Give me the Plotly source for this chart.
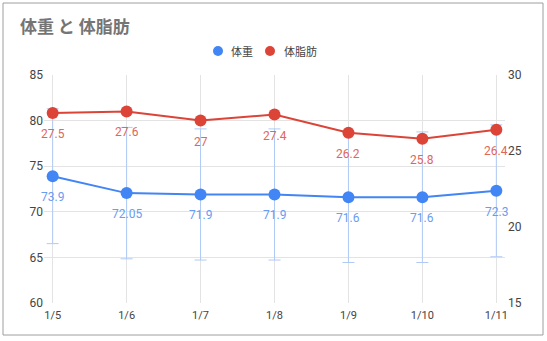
import plotly.graph_objects as go

dates = ["1/5", "1/6", "1/7", "1/8", "1/9", "1/10", "1/11"]
weight = [73.9, 72.05, 71.9, 71.9, 71.6, 71.6, 72.3]
body_fat = [27.5, 27.6, 27, 27.4, 26.2, 25.8, 26.4]
weight_labels = ["73.9", "72.05", "71.9", "71.9", "71.6", "71.6", "72.3"]
fat_labels = ["27.5", "27.6", "27", "27.4", "26.2", "25.8", "26.4"]
series_names = ["体重", "体脂肪"]
left_ticks = [60, 65, 70, 75, 80, 85]
right_ticks = [15, 20, 25, 30]

BLUE = "#4285F4"
RED = "#DB4437"
FONT = "Roboto, 'Noto Sans CJK JP', Arial, sans-serif"
JFONT = "'Noto Sans CJK JP', Roboto, sans-serif"

W, H = 547, 341
L, R, T, B = 44, 42, 75, 38
pw, ph = W - L - R, H - T - B

def px_x(p):
    return (p - L) / pw

def px_y(p):
    return (T + ph - p) / ph

fig = go.Figure()
fig.add_trace(go.Scatter(
    x=dates, y=weight, mode="lines+markers", name=series_names[0],
    line=dict(color=BLUE, width=2), marker=dict(color=BLUE, size=12),
    error_y=dict(type="percent", value=10, color="#b0caf6", thickness=1, width=6),
    showlegend=False, yaxis="y", cliponaxis=False,
))
fig.add_trace(go.Scatter(
    x=dates, y=body_fat, mode="lines+markers", name=series_names[1],
    line=dict(color=RED, width=2), marker=dict(color=RED, size=12),
    showlegend=False, yaxis="y2", cliponaxis=False,
))

annotations = []
for d, v, t in zip(dates, weight, weight_labels):
    annotations.append(dict(x=d, y=v, xref="x", yref="y", text=t, showarrow=False,
                            yshift=-21, font=dict(color="#6a9cf0", size=12, family=FONT)))
for d, v, t in zip(dates, body_fat, fat_labels):
    annotations.append(dict(x=d, y=v, xref="x", yref="y2", text=t, showarrow=False,
                            yshift=-21, font=dict(color="#e0665a", size=12, family=FONT)))

# manual legend: circle + label
legend_items = [(218, 229, series_names[0], BLUE), (270, 282, series_names[1], RED)]
shapes = [dict(type="rect", xref="paper", yref="paper",
               x0=px_x(3), x1=px_x(543), y0=px_y(335), y1=px_y(3),
               line=dict(color="#9e9e9e", width=1), layer="below")]
for cx, tx, name, col in legend_items:
    shapes.append(dict(type="circle", xref="paper", yref="paper",
                       xsizemode="pixel", ysizemode="pixel",
                       xanchor=px_x(cx), yanchor=px_y(51),
                       x0=-5, x1=5, y0=-5, y1=5,
                       fillcolor=col, line=dict(width=0)))
    annotations.append(dict(x=px_x(tx), y=px_y(51), xref="paper", yref="paper",
                            xanchor="left", yanchor="middle", showarrow=False,
                            text=name, font=dict(family=JFONT, size=11, color="#444444")))

pad = 9 / (pw / 6)
fig.update_layout(
    width=W, height=H, autosize=False,
    margin=dict(l=L, r=R, t=T, b=B, autoexpand=False),
    paper_bgcolor="white", plot_bgcolor="white",
    font=dict(family=FONT, color="#444444", size=12),
    showlegend=False,
    title=dict(text="<b>体重 と 体脂肪</b>", font=dict(family=JFONT, size=17, color="#757575"),
               x=20 / W, xanchor="left", xref="container",
               y=1 - 27 / H, yanchor="middle", yref="container"),
    xaxis=dict(type="category", range=[-pad, 6 + pad], showgrid=True,
               gridcolor="#e3e3e3", gridwidth=1, showline=False, zeroline=False,
               ticks="", ticklabelstandoff=4, tickfont=dict(size=11, color="#444444")),
    yaxis=dict(range=[60, 85], tickvals=left_ticks, showgrid=True,
               gridcolor="#e3e3e3", gridwidth=1, zeroline=False, showline=False,
               ticks="", tickfont=dict(size=12, color="#444444")),
    yaxis2=dict(range=[15, 30], tickvals=right_ticks, overlaying="y", side="right",
                showgrid=False, zeroline=False, showline=False, ticks="",
                ticklabelstandoff=2, tickfont=dict(size=12, color="#444444")),
    shapes=shapes,
    annotations=annotations,
)

fig.write_html("out.html")
